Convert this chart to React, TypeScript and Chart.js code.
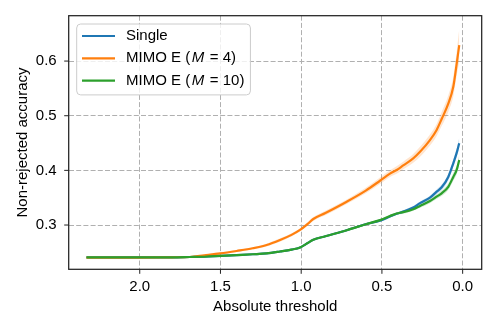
import React, { useEffect, useRef } from 'react';
import { Chart, registerables } from 'chart.js';

Chart.register(...registerables);

const thresholds = [2.33, 2.0, 1.8, 1.69, 1.6, 1.5, 1.4, 1.3, 1.214, 1.131, 1.06, 1.007, 0.96, 0.925, 0.85, 0.718, 0.6, 0.512, 0.45, 0.409, 0.368, 0.306, 0.264, 0.2025, 0.161, 0.13, 0.089, 0.058, 0.037, 0.021];

const singleAcc = [0.241, 0.241, 0.241, 0.2415, 0.242, 0.2435, 0.245, 0.2465, 0.248, 0.2515, 0.255, 0.259, 0.267, 0.273, 0.2795, 0.2905, 0.3015, 0.308, 0.3155, 0.3205, 0.3245, 0.332, 0.340, 0.350, 0.361, 0.369, 0.388, 0.413, 0.432, 0.4495];
const mimo4Acc = [0.2405, 0.2405, 0.241, 0.2415, 0.2445, 0.248, 0.2525, 0.2575, 0.2634, 0.2726, 0.282, 0.291, 0.302, 0.311, 0.322, 0.3427, 0.363, 0.381, 0.394, 0.4006, 0.409, 0.422, 0.434, 0.4555, 0.474, 0.494, 0.522, 0.553, 0.595, 0.629];
const mimo10Acc = [0.241, 0.241, 0.241, 0.2415, 0.242, 0.2435, 0.245, 0.2465, 0.248, 0.2515, 0.255, 0.259, 0.267, 0.273, 0.2795, 0.2905, 0.3015, 0.309, 0.3165, 0.321, 0.3235, 0.329, 0.335, 0.344, 0.352, 0.358, 0.370, 0.388, 0.401, 0.419];

const singleSpread = [0.001, 0.001, 0.001, 0.001, 0.001, 0.001, 0.001, 0.001, 0.001, 0.0015, 0.0015, 0.0015, 0.0015, 0.0015, 0.0015, 0.002, 0.002, 0.002, 0.002, 0.002, 0.0025, 0.003, 0.003, 0.0035, 0.004, 0.005, 0.006, 0.007, 0.008, 0.01];
const mimo4Spread = [0.001, 0.001, 0.001, 0.001, 0.0015, 0.002, 0.002, 0.002, 0.0025, 0.003, 0.003, 0.003, 0.0035, 0.0035, 0.004, 0.004, 0.005, 0.006, 0.006, 0.007, 0.007, 0.008, 0.009, 0.01, 0.011, 0.013, 0.015, 0.018, 0.022, 0.03];
const mimo10Spread = [0.001, 0.001, 0.001, 0.001, 0.001, 0.001, 0.001, 0.001, 0.001, 0.0015, 0.0015, 0.0015, 0.0015, 0.0015, 0.0015, 0.002, 0.002, 0.002, 0.0025, 0.0025, 0.003, 0.003, 0.0035, 0.004, 0.0045, 0.005, 0.006, 0.007, 0.008, 0.009];

const seriesNames = ['Single', 'MIMO E (M = 4)', 'MIMO E (M = 10)'];
const legendParts = [
  ['Single', '', ''],
  ['MIMO E (', 'M', ' = 4)'],
  ['MIMO E (', 'M', ' = 10)'],
];
const seriesColors = ['#1f77b4', '#ff7f0e', '#2ca02c'];
const bandColors = ['rgba(31,119,180,0.22)', 'rgba(255,127,14,0.2)', 'rgba(44,160,44,0.2)'];

const xLabel = 'Absolute threshold';
const yLabel = 'Non-rejected accuracy';

const FONT = "'Liberation Sans', Arial, sans-serif";

function pts(vals: number[], spread?: number[], sign = 0) {
  return thresholds.map((t, i) => ({ x: t, y: vals[i] + (spread ? sign * spread[i] : 0) }));
}

const chromePlugin = {
  id: 'chrome',
  afterDraw(chart: any) {
    const { ctx, chartArea: a, scales } = chart;
    ctx.save();
    ctx.strokeStyle = '#222';
    ctx.lineWidth = 1;
    ctx.beginPath();
    scales.x.ticks.forEach((t: any) => {
      const px = scales.x.getPixelForValue(t.value);
      ctx.moveTo(px, a.bottom);
      ctx.lineTo(px, a.bottom + 4.5);
    });
    scales.y.ticks.forEach((t: any) => {
      const py = scales.y.getPixelForValue(t.value);
      ctx.moveTo(a.left - 4.5, py);
      ctx.lineTo(a.left, py);
    });
    ctx.stroke();
    ctx.lineWidth = 1.25;
    ctx.strokeRect(a.left, a.top, a.right - a.left, a.bottom - a.top);

    // legend
    const fontN = `15px ${FONT}`;
    const fontI = `italic 15px ${FONT}`;
    const bx = a.left + 8;
    const by = a.top + 8.3;
    const rowH = 22.3;
    const textX = bx + 49.3;
    const widths = legendParts.map(([p1, p2, p3]) => {
      ctx.font = fontN;
      let w = ctx.measureText(p1).width + ctx.measureText(p3).width;
      if (p2) { ctx.font = fontI; w += ctx.measureText(p2).width + 3; }
      return w;
    });
    const bw = textX - bx + Math.max(...widths) + 6;
    const bh = rowH * 3 + 4;
    ctx.beginPath();
    ctx.roundRect(bx, by, bw, bh, 4);
    ctx.fillStyle = 'rgba(255,255,255,0.8)';
    ctx.fill();
    ctx.strokeStyle = '#cccccc';
    ctx.lineWidth = 1;
    ctx.stroke();
    legendParts.forEach((parts, i) => {
      const cy = by + 12 + i * rowH;
      ctx.strokeStyle = seriesColors[i];
      ctx.lineWidth = 2.2;
      ctx.beginPath();
      ctx.moveTo(bx + 5.3, cy);
      ctx.lineTo(bx + 38.3, cy);
      ctx.stroke();
      ctx.fillStyle = '#000';
      ctx.textBaseline = 'middle';
      ctx.textAlign = 'left';
      let x = textX;
      ctx.font = fontN;
      ctx.fillText(parts[0], x, cy);
      x += ctx.measureText(parts[0]).width;
      if (parts[1]) {
        x += 1.5;
        ctx.font = fontI;
        ctx.fillText(parts[1], x, cy);
        x += ctx.measureText(parts[1]).width + 1.5;
        ctx.font = fontN;
        ctx.fillText(parts[2], x, cy);
      }
    });
    ctx.restore();
  },
};

export default function App() {
  const ref = useRef<HTMLCanvasElement | null>(null);
  useEffect(() => {
    if (!ref.current) return;
    const datasets: any[] = [];
    const accs = [singleAcc, mimo4Acc, mimo10Acc];
    const spreads = [singleSpread, mimo4Spread, mimo10Spread];
    accs.forEach((acc, i) => {
      const lowIdx = datasets.length;
      datasets.push({
        label: seriesNames[i] + ' lower',
        data: pts(acc, spreads[i], -1),
        borderColor: 'transparent',
        borderWidth: 0,
        pointRadius: 0,
        fill: false,
        order: 10,
        cubicInterpolationMode: 'monotone',
      });
      datasets.push({
        label: seriesNames[i] + ' upper',
        data: pts(acc, spreads[i], 1),
        borderColor: 'transparent',
        borderWidth: 0,
        pointRadius: 0,
        backgroundColor: bandColors[i],
        fill: { target: lowIdx },
        order: 10,
        cubicInterpolationMode: 'monotone',
      });
    });
    const lineOrder = [3, 2, 1];
    accs.forEach((acc, i) => {
      datasets.push({
        label: seriesNames[i],
        data: pts(acc),
        borderColor: seriesColors[i],
        borderWidth: 2.2,
        pointRadius: 0,
        fill: false,
        order: lineOrder[i],
        cubicInterpolationMode: 'monotone',
        borderCapStyle: 'butt',
      });
    });

    const chart = new Chart(ref.current, {
      type: 'line',
      data: { datasets },
      plugins: [chromePlugin],
      options: {
        responsive: false,
        animation: false,
        devicePixelRatio: 1,
        layout: { padding: { top: 15.7, right: 16.3, left: 0, bottom: 0 } },
        plugins: { legend: { display: false }, tooltip: { enabled: false } },
        scales: {
          x: {
            type: 'linear',
            reverse: true,
            min: -0.118,
            max: 2.44,
            afterFit: (s: any) => { s.height = 62.7; s.paddingLeft = 0; s.paddingRight = 0; },
            ticks: {
              stepSize: 0.5,
              includeBounds: false,
              padding: 9,
              color: '#000',
              font: { family: FONT, size: 15 },
              callback: (v: any) => Number(v).toFixed(1),
              maxRotation: 0,
            },
            grid: { color: '#b0b0b0', lineWidth: 1, drawTicks: false },
            border: { display: false, dash: [5, 2.2] },
            title: { display: true, text: xLabel, color: '#000', font: { family: FONT, size: 15 }, padding: { top: 0, bottom: 16.3 } },
          },
          y: {
            type: 'linear',
            min: 0.219,
            max: 0.683,
            afterFit: (s: any) => { s.width = 68.7; s.paddingTop = 0; s.paddingBottom = 0; },
            ticks: {
              stepSize: 0.1,
              includeBounds: false,
              padding: 12,
              color: '#000',
              font: { family: FONT, size: 15 },
              callback: (v: any) => Number(v).toFixed(1),
            },
            grid: { color: '#b0b0b0', lineWidth: 1, drawTicks: false },
            border: { display: false, dash: [5, 2.2] },
            title: { display: true, text: yLabel, color: '#000', font: { family: FONT, size: 15 }, padding: { top: 13.7, bottom: 0 } },
          },
        },
      },
    });
    return () => chart.destroy();
  }, []);
  return (
    <div style={{ position: 'fixed', left: 0, top: 0, width: 498, height: 332, background: '#fff' }}>
      <canvas ref={ref} width={498} height={332} style={{ width: 498, height: 332, display: 'block' }} />
    </div>
  );
}
